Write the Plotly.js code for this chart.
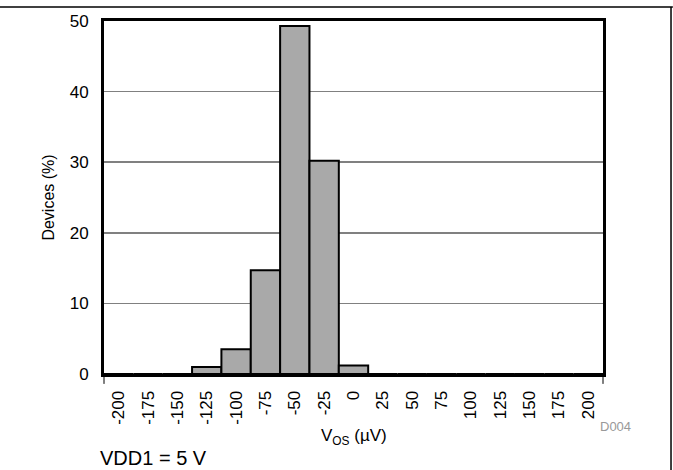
<!DOCTYPE html>
<html>
<head>
<meta charset="utf-8">
<script src="https://cdn.plot.ly/plotly-3.0.1.min.js"></script>
<style>html,body{margin:0;padding:0;background:#fff;}#chart{width:673px;height:470px;}</style>
</head>
<body>
<div id="chart"></div>
<script>
const binLabels = ["-200","-175","-150","-125","-100","-75","-50","-25","0","25","50","75","100","125","150","175","200"];
const devicesPct = [0,0,0,1.0,3.5,14.7,49.3,30.2,1.2,0,0,0,0,0,0,0,0];
const yTicks = [0,10,20,30,40,50];

const font = "Liberation Sans, Arial, sans-serif";
const trace = {
  type: "bar",
  x: binLabels,
  y: devicesPct,
  marker: {color: "#a9a9a9", line: {color: "#000", width: 2}},
  hoverinfo: "skip"
};
const layout = {
  width: 673, height: 470,
  margin: {l: 104, r: 70, t: 21, b: 96, pad: 0},
  paper_bgcolor: "#fff", plot_bgcolor: "#fff",
  bargap: 0,
  showlegend: false,
  font: {family: font, color: "#000"},
  xaxis: {
    type: "category",
    range: [-0.5, 16.5],
    tickangle: -90,
    tickfont: {size: 17, family: font},
    showgrid: false,
    showline: true, linecolor: "#000", linewidth: 3, mirror: true,
    ticks: "", ticklabelstandoff: 7,
    zeroline: false, fixedrange: true
  },
  yaxis: {
    range: [0, 50],
    tickvals: yTicks,
    tickfont: {size: 17, family: font},
    showgrid: true, gridcolor: "#808080", gridwidth: 1.5,
    showline: true, linecolor: "#000", linewidth: 3, mirror: true,
    ticks: "", ticklabelstandoff: 9,
    zeroline: false, fixedrange: true,
    title: {text: "Devices (%)", font: {size: 16, family: font}, standoff: 12}
  },
  shapes: [
    {type: "line", xref: "paper", yref: "paper", x0: 0, x1: 0, y0: 0, y1: -0.028, line: {color: "#000", width: 1}},
    {type: "line", xref: "paper", yref: "paper", x0: 1, x1: 1, y0: 0, y1: -0.028, line: {color: "#000", width: 1}},
    {type: "line", xref: "paper", yref: "paper", x0: -0.21, x1: 1.14, y0: 1.04, y1: 1.04, line: {color: "#000", width: 1.5}},
    {type: "line", xref: "paper", yref: "paper", x0: 1.1363, x1: 1.1363, y0: 1.04, y1: -0.28, line: {color: "#000", width: 1.5}}
  ],
  annotations: [
    {text: "V<sub>OS</sub> (µV)", xref: "paper", yref: "paper", x: 0.5, y: -0.178, xanchor: "center", yanchor: "middle", showarrow: false, font: {size: 17, family: font}},
    {text: "D004", xref: "paper", yref: "paper", x: 0.99, y: -0.149, xanchor: "left", yanchor: "middle", showarrow: false, font: {size: 13, family: font, color: "#999"}},
    {text: "VDD1 = 5 V", xref: "paper", yref: "paper", x: -0.012, y: -0.238, xanchor: "left", yanchor: "middle", showarrow: false, font: {size: 20, family: font}}
  ]
};
Plotly.newPlot("chart", [trace], layout, {displayModeBar: false, staticPlot: true});
</script>
</body>
</html>
